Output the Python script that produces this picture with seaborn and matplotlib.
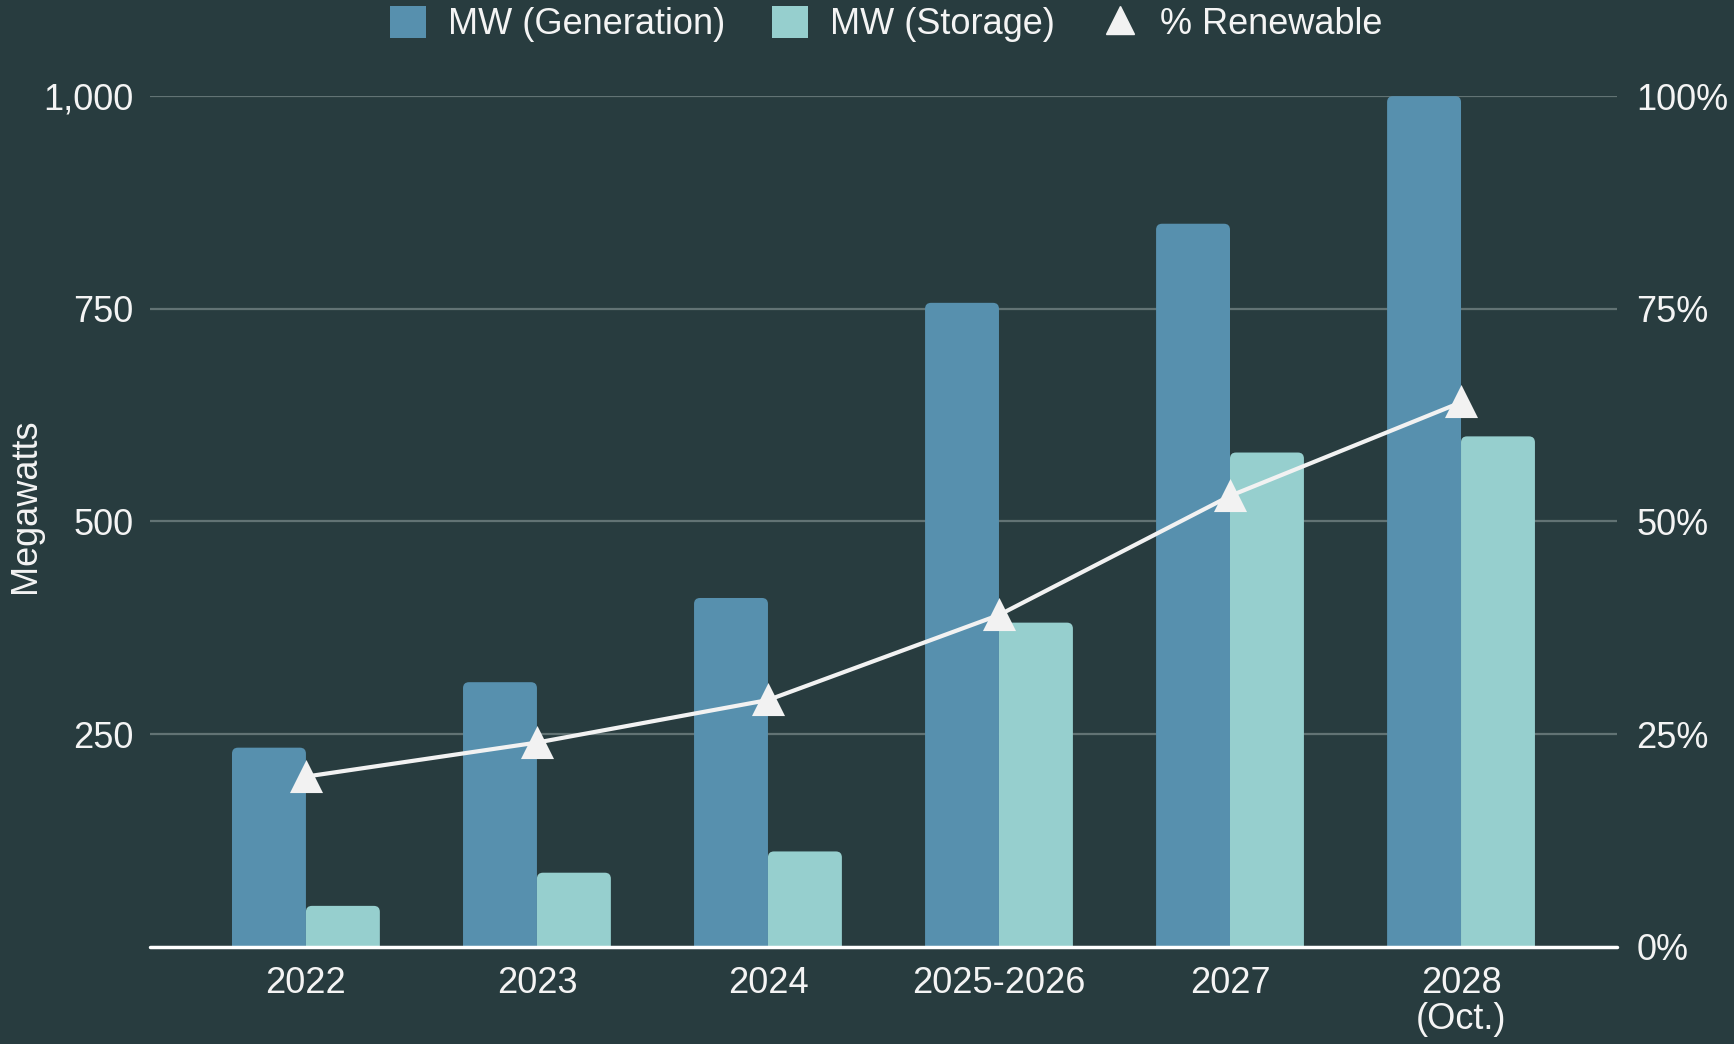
import matplotlib
matplotlib.use("Agg")
import matplotlib.pyplot as plt
import seaborn as sns
import pandas as pd
from matplotlib.patches import Patch, FancyBboxPatch
from matplotlib.lines import Line2D
from matplotlib.ticker import FuncFormatter, FixedLocator

categories = ["2022", "2023", "2024", "2025-2026", "2027", "2028\n(Oct.)"]
mw_generation = [234, 311, 410, 757, 850, 1000]
mw_storage = [48, 87, 112, 381, 581, 600]
pct_renewable = [0.20, 0.24, 0.29, 0.39, 0.53, 0.64]

BG = "#283C3F"
GEN = "#5790AE"
STO = "#96CFCE"
GRID = "#627374"
TXT = "#F4F4F4"
FS = 26

sns.set_theme(style="white")
plt.rcParams["font.family"] = ["Liberation Sans", "DejaVu Sans"]

df = pd.DataFrame({
    "Category": categories * 2,
    "MW": mw_generation + mw_storage,
    "Series": ["MW (Generation)"] * len(categories) + ["MW (Storage)"] * len(categories),
})
dfl = pd.DataFrame({"Category": categories, "Pct": pct_renewable})

fig = plt.figure(figsize=(17.34, 10.44), dpi=100, facecolor=BG)
ax = fig.add_axes([0.0865, 0.0932, 0.846, 0.8147])
ax.set_facecolor(BG)

sns.barplot(data=df, x="Category", y="MW", hue="Series",
            palette={"MW (Generation)": GEN, "MW (Storage)": STO},
            width=0.64, gap=0, saturation=1, linewidth=0, ax=ax, legend=False,
            order=categories, zorder=2)

ax.set_xlim(-0.675, 5.675)
ax.set_ylim(0, 1000)

# round the bar tops (replace seaborn's rectangles with rounded versions of the same geometry)
px_w = 0.846 * 1734
px_h = 0.8147 * 1044
x_per_px = 6.35 / px_w
y_per_px = 1000 / px_h
aspect = y_per_px / x_per_px
r = 6 * x_per_px
for p in list(ax.patches):
    x, w, h = p.get_x(), p.get_width(), p.get_height()
    fc = p.get_facecolor()
    p.remove()
    fb = FancyBboxPatch((x, -r * aspect), w, h + r * aspect,
                        boxstyle=f"round,pad=0,rounding_size={r}",
                        mutation_aspect=aspect, facecolor=fc, edgecolor="none",
                        zorder=2, clip_on=True)
    ax.add_patch(fb)

ax.yaxis.set_major_locator(FixedLocator([0, 250, 500, 750, 1000]))
ax.yaxis.set_major_formatter(FuncFormatter(lambda v, p: "" if v == 0 else f"{int(v):,}"))
for y in [250, 500, 750, 1000]:
    ax.axhline(y, color=GRID, lw=1.6, zorder=1)
ax.axhline(0, color="white", lw=2.5, zorder=3, clip_on=False)
for s in ax.spines.values():
    s.set_visible(False)
ax.tick_params(axis="both", length=0, colors=TXT, labelsize=FS)
ax.tick_params(axis="y", pad=12)
ax.tick_params(axis="x", pad=14)
ax.set_xlabel("")
ax.set_ylabel("Megawatts", color=TXT, fontsize=FS)
ax.yaxis.set_label_coords(-0.073, 0.518)

ax2 = ax.twinx()
sns.pointplot(data=dfl, x="Category", y="Pct", order=categories, color="#F2F2F2",
              markers="^", linestyles="-", ax=ax2, markersize=20,
              linewidth=3, zorder=5)
ax2.set_ylim(0, 1)
ax2.yaxis.set_major_locator(FixedLocator([0, 0.25, 0.5, 0.75, 1.0]))
ax2.yaxis.set_major_formatter(FuncFormatter(lambda v, p: f"{int(round(v*100))}%"))
ax2.tick_params(axis="y", length=0, colors=TXT, labelsize=FS, pad=14)
ax2.set_ylabel("")
for s in ax2.spines.values():
    s.set_visible(False)

ax.set_xlim(-0.675, 5.675)
ax2.set_xlim(-0.675, 5.675)
ax.set_xticks(range(len(categories)))
ax.set_xticklabels(categories, color=TXT, fontsize=FS, linespacing=1.05)

handles = [
    Patch(facecolor=GEN, edgecolor="none", label="MW (Generation)"),
    Patch(facecolor=STO, edgecolor="none", label="MW (Storage)"),
    Line2D([0], [0], marker="^", color="none", markerfacecolor="#F2F2F2",
           markeredgecolor="#F2F2F2", markersize=20, label="% Renewable"),
]
leg = fig.legend(handles=handles, loc="center", bbox_to_anchor=(0.511, 0.977), ncol=3,
                 frameon=False, fontsize=FS, handlelength=1.0, handleheight=1.0,
                 handletextpad=0.6, columnspacing=1.3)
for t in leg.get_texts():
    t.set_color(TXT)

fig.savefig("out.png", dpi=100, facecolor=BG)
